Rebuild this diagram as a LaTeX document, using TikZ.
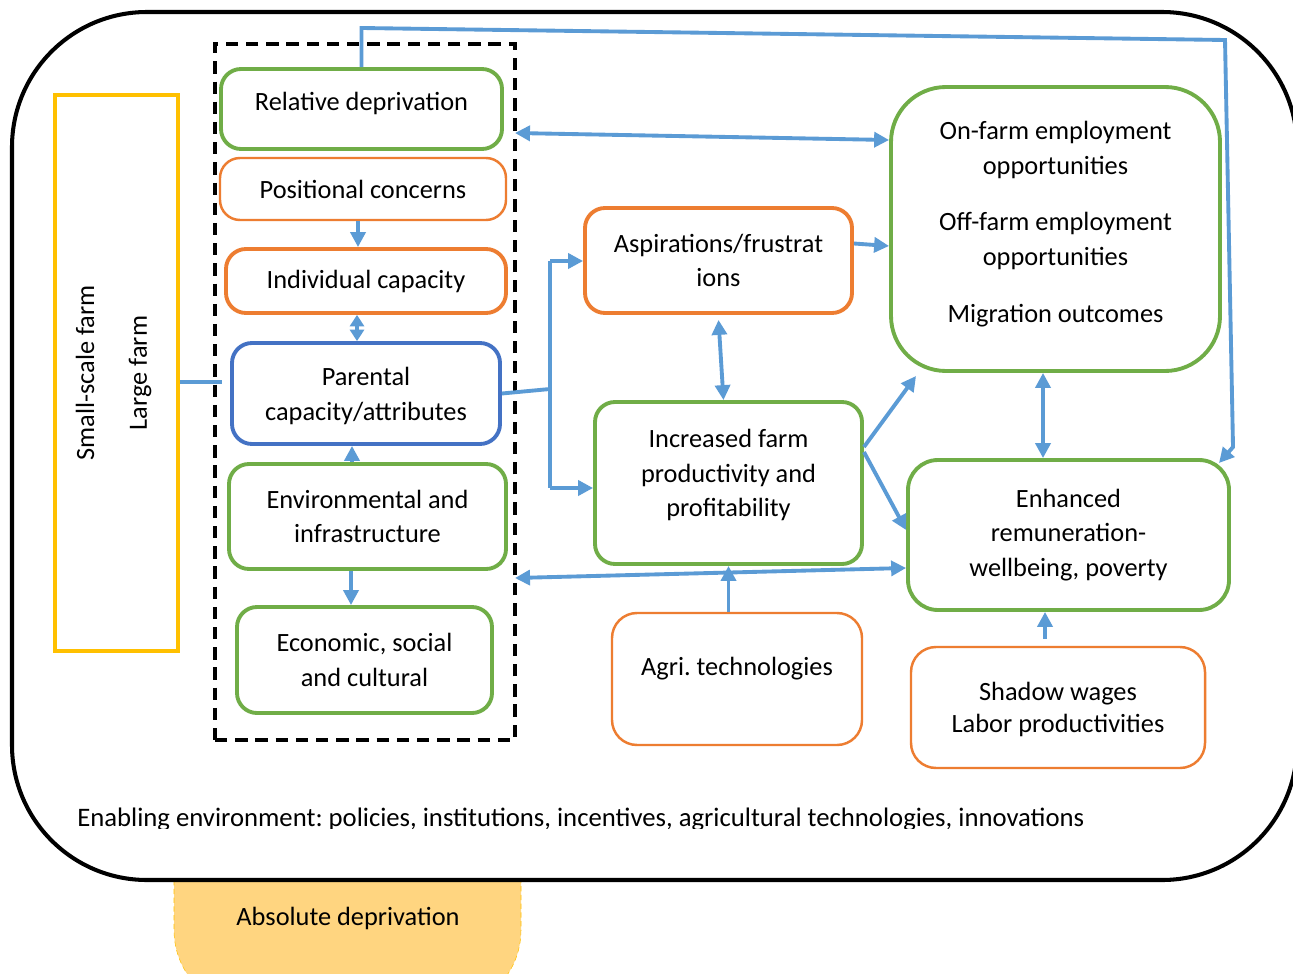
\documentclass[tikz,border=0pt]{standalone}
\usepackage{fontspec}
\setmainfont{Carlito}
\usetikzlibrary{arrows.meta}
\frenchspacing
\definecolor{boxgreen}{HTML}{70AD47}
\definecolor{boxorange}{HTML}{ED7D31}
\definecolor{boxblue}{HTML}{4472C4}
\definecolor{linkblue}{HTML}{5B9BD5}
\definecolor{farmyellow}{HTML}{FFC000}
\definecolor{absfill}{HTML}{FFD580}
\tikzset{
  txt/.style={font=\fontsize{15}{19.8}\selectfont},
  box/.style={draw, txt, rounded corners=0.4cm, line width=2.2pt, align=center, inner sep=0pt},
  gbox/.style={box, draw=boxgreen},
  obox/.style={box, draw=boxorange},
  tbox/.style={box, draw=boxorange, line width=1.4pt},
  wh/.style 2 args={minimum width=#1*0.02cm, minimum height=#2*0.02cm},
  link/.style={draw=linkblue, line width=2.2pt, -{Triangle[length=8.5pt,width=8.5pt]}},
  dlink/.style={link, {Triangle[length=8.5pt,width=8.5pt]}-{Triangle[length=8.5pt,width=8.5pt]}},
  slink/.style={link, {Triangle[length=6.5pt,width=8pt]}-{Triangle[length=6.5pt,width=8pt]}},
  plain/.style={draw=linkblue, line width=2.2pt},
}
\begin{document}
\begin{tikzpicture}[x=0.02cm, y=-0.02cm]
    \useasboundingbox (0,0) rectangle (1293,973);
    \clip (0,0) rectangle (1293,973);
    % absolute deprivation sits behind the frame
    \draw[draw=farmyellow, densely dashed, line width=0.3pt, fill=absfill, rounded corners=1.6cm] (174,800) rectangle (521,1010);
    \draw[line width=2.3pt, fill=white, rounded corners=2.7cm] (12,12) rectangle (1297,880);
    \node[txt] (absd) at (348,918) {Absolute deprivation};

    % farm size
    \node[draw=farmyellow, line width=2pt, wh={123}{556}] (farm) at (116.5,373) {};
    \node[txt, rotate=90] (small) at (85,373) {Small-scale farm};
    \node[txt, rotate=90] (large) at (140,373) {Large farm};

    % household level
    \node[draw, line width=2pt, dash pattern=on 7pt off 4.5pt, wh={300}{696}] (grp) at (365,392) {};
    \node[gbox, wh={281}{80}] (rel) at (361.5,109) {\raisebox{3pt}[\height][\depth]{Relative deprivation}};
    \node[tbox, wh={286}{62}] (pos) at (363,189) {Positional concerns};
    \node[obox, wh={280}{64}] (ind) at (366,281) {Individual capacity};
    \node[box, draw=boxblue, wh={268}{101}, text depth=0pt] (par) at (366,393.5) {Parental\\capacity/attributes};
    \node[gbox, wh={277}{105}] (env) at (367.5,516.5) {Environmental and\\infrastructure};
    \node[gbox, wh={255}{106}] (eco) at (364.5,660) {Economic, social\\and cultural};

    % outcomes
    \node[obox, wh={267}{105}] (asp) at (718.5,260.5) {Aspirations/frustrat\\ions};
    \node[gbox, wh={267}{162}, text depth=11.5pt] (inc) at (728.5,483) {Increased farm\\productivity and\\profitability};
    \node[gbox, rounded corners=1.1cm, wh={329}{284}, text depth=8.2pt] (emp) at (1055.5,229) {On-farm employment\\opportunities\\[12.5pt]Off-farm employment\\opportunities\\[12.5pt]Migration outcomes};
    \node[gbox, rounded corners=0.6cm, wh={321}{150}] (enh) at (1068.5,535) {Enhanced\\remuneration-\\wellbeing, poverty};
    \node[tbox, rounded corners=0.5cm, wh={250}{132}] (agri) at (737,679) {\raisebox{6pt}[\height][\depth]{Agri. technologies}};
    \node[tbox, rounded corners=0.5cm, wh={294}{121}, text depth=0pt, font=\fontsize{15}{18}\selectfont] (shw) at (1058,707.5) {Shadow wages\\Labor productivities};

    \begin{scope}
        \clip (60,790) rectangle (1200,828);
        \node[font=\fontsize{15.2}{19.8}\selectfont, anchor=base west, inner sep=0pt] (enab) at (77,826) {Enabling environment: policies, institutions, incentives, agricultural technologies, innovations};
    \end{scope}

    % free ends
    \coordinate (fp) at (222,382);
    \coordinate (fb1) at (362,28);
    \coordinate (fb2) at (1225,40);
    \coordinate (fb3) at (1233,447);
    \coordinate (fb4) at (1219,463);
    \coordinate (gA) at (515,133);
    \coordinate (eA) at (891,140);
    \coordinate (gB) at (515,578);
    \coordinate (br) at (550,389);
    \coordinate (brT) at (550,261);
    \coordinate (brB) at (550,488);
    \coordinate (eSW) at (916,376);

    % connectors
    \draw[plain] (farm.east |- fp) -- (fp);
    \draw[link] (rel.north) -- (rel.north |- fb1) -- (fb2) -- (fb3) -- (fb4);
    \draw[dlink] (gA) -- (emp.west |- eA);
    \draw[link] ([xshift=-0.1cm]pos.south) -- ([xshift=-0.1cm]pos.south |- ind.north);
    \draw[slink] ([xshift=-0.18cm]ind.south) -- ([xshift=-0.18cm]ind.south |- par.north);
    \draw[link] ([xshift=-0.31cm]env.north) -- ([xshift=-0.31cm]env.north |- par.south);
    \draw[link] ([xshift=-0.27cm]eco.north |- env.south) -- ([xshift=-0.27cm]eco.north);
    \draw[plain] (par.east) -- (br);
    \draw[plain] (brT) -- (brB);
    \draw[link] (brT) -- (asp.west |- brT);
    \draw[link] (brB) -- (inc.west |- brB);
    \draw[link] ([yshift=0.34cm]asp.east) -- ([yshift=-0.34cm]emp.west);
    \draw[dlink] ([yshift=-0.1cm]asp.south) -- ([xshift=-0.1cm]inc.north);
    \draw[link] ([yshift=0.72cm]inc.east) -- (eSW);
    \draw[link] ([yshift=0.62cm]inc.east) -- ([yshift=0.1cm]enh.west);
    \draw[dlink] ([xshift=-0.25cm]emp.south) -- ([xshift=-0.25cm]emp.south |- enh.north);
    \draw[dlink] (gB) -- ([yshift=-0.66cm]enh.west);
    \draw[link] (inc.south |- agri.north) -- (inc.south);
    \draw[link] ([xshift=-0.26cm,yshift=0.14cm]shw.north) -- ([xshift=-0.26cm]shw.north |- enh.south);
\end{tikzpicture}
\end{document}
